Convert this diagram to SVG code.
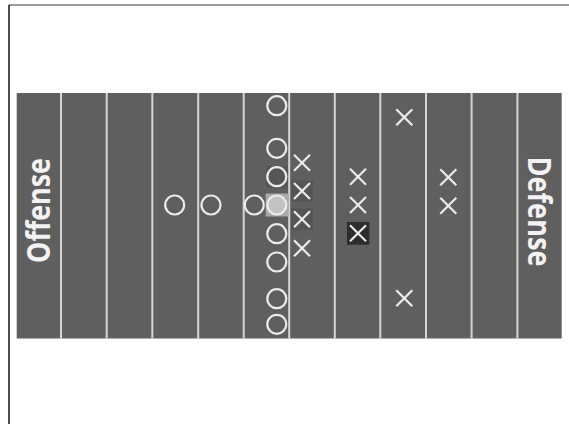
<svg xmlns="http://www.w3.org/2000/svg" width="569" height="424" viewBox="0 0 569 424">
<style>
.yard{stroke:#d6d6d6;stroke-width:2}
.o{fill:none;stroke:#ececec;stroke-width:2.2}
.x{stroke:#ececec;stroke-width:2.2;stroke-linecap:butt}
.lbl{font-family:"Open Sans","Noto Sans","DejaVu Sans",sans-serif;font-weight:bold;fill:#f2f2f2;font-size:32px}
</style>
<defs>
<g id="xm"><line class="x" x1="-8" y1="-8" x2="8" y2="8"/><line class="x" x1="-8" y1="8" x2="8" y2="-8"/></g>
</defs>
<rect width="569" height="424" fill="#ffffff"/>
<line x1="9" y1="5" x2="569" y2="5" stroke="#7a7a7a" stroke-width="1.5"/>
<line x1="9" y1="5" x2="9" y2="424" stroke="#111" stroke-width="1.5"/>
<g id="field">
<rect x="16.7" y="93" width="545" height="245.5" fill="#5f5f5f"/>
<line class="yard" x1="61" y1="93" x2="61" y2="338.5"/>
<line class="yard" x1="106.7" y1="93" x2="106.7" y2="338.5"/>
<line class="yard" x1="152.3" y1="93" x2="152.3" y2="338.5"/>
<line class="yard" x1="198.2" y1="93" x2="198.2" y2="338.5"/>
<line class="yard" x1="243.7" y1="93" x2="243.7" y2="338.5"/>
<line class="yard" x1="289.2" y1="93" x2="289.2" y2="338.5"/>
<line class="yard" x1="334.8" y1="93" x2="334.8" y2="338.5"/>
<line class="yard" x1="380.3" y1="93" x2="380.3" y2="338.5"/>
<line class="yard" x1="426" y1="93" x2="426" y2="338.5"/>
<line class="yard" x1="471.6" y1="93" x2="471.6" y2="338.5"/>
<line class="yard" x1="517.4" y1="93" x2="517.4" y2="338.5"/>
</g>
<g id="labels">
<text class="lbl" transform="translate(49.5,210.5) rotate(-90)" text-anchor="middle" textLength="105" lengthAdjust="spacingAndGlyphs">Offense</text>
<text class="lbl" transform="translate(528,211.5) rotate(90)" text-anchor="middle" textLength="110" lengthAdjust="spacingAndGlyphs">Defense</text>
</g>
<g id="offense">
<rect x="266" y="166" width="22" height="22" fill="#565656"/>
<rect x="265.7" y="193.5" width="23" height="23" fill="#a9a9a9"/>
<circle class="o" cx="276.8" cy="105.7" r="9.5"/>
<circle class="o" cx="276.8" cy="148.3" r="9.5"/>
<circle class="o" cx="276.8" cy="176.7" r="9.5"/>
<circle class="o" cx="276.8" cy="205" r="9.5" style="fill:#c2c2c2"/>
<circle class="o" cx="276.8" cy="233.7" r="9.5"/>
<circle class="o" cx="276.8" cy="262" r="9.5"/>
<circle class="o" cx="276.8" cy="298.7" r="9.5"/>
<circle class="o" cx="276.8" cy="324.3" r="9.5"/>
<circle class="o" cx="254.3" cy="205" r="9.5"/>
<circle class="o" cx="211" cy="205" r="9.5"/>
<circle class="o" cx="174.7" cy="205" r="9.5"/>
</g>
<g id="defense">
<rect x="291" y="180.5" width="22" height="21" fill="#555555"/>
<rect x="291" y="208.5" width="22" height="21.5" fill="#555555"/>
<rect x="347" y="222" width="22.3" height="22.7" fill="#2c2c2c"/>
<use href="#xm" x="302" y="162.7"/>
<use href="#xm" x="302" y="191"/>
<use href="#xm" x="302" y="219.3"/>
<use href="#xm" x="302" y="248.3"/>
<use href="#xm" x="358" y="176.7"/>
<use href="#xm" x="358" y="205"/>
<use href="#xm" x="358" y="233.3"/>
<use href="#xm" x="404.3" y="117.3"/>
<use href="#xm" x="404.3" y="298.3"/>
<use href="#xm" x="448.3" y="177.3"/>
<use href="#xm" x="448.3" y="205.7"/>
</g>
</svg>
